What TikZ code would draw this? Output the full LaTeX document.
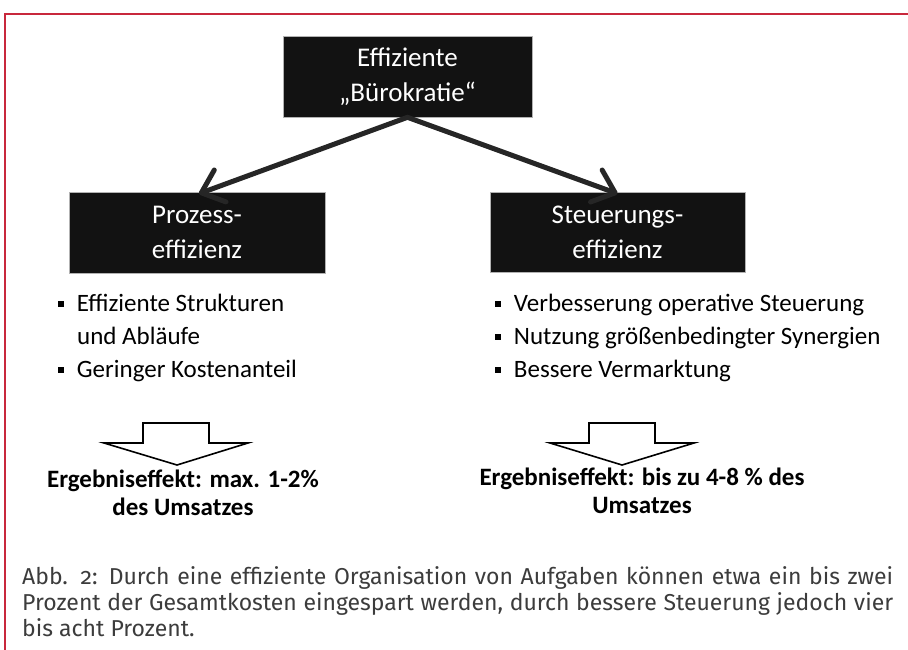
\documentclass[tikz,border=0pt]{standalone}
\usepackage{fontspec}
\setmainfont{Carlito}
\newfontfamily\capfont[Numbers=OldStyle]{Fira Sans}
\usetikzlibrary{arrows.meta}
\definecolor{framered}{HTML}{C8283C}
\definecolor{boxblack}{HTML}{121212}
\definecolor{connc}{HTML}{262626}
\definecolor{capc}{HTML}{3C3C3C}
\tikzset{
  blackbox/.style={fill=boxblack, draw=gray!60, line width=0.6pt, text=white, align=center,
    font=\fontsize{27}{35}\selectfont, inner sep=0pt},
  conn/.style={draw=connc, line width=5pt, line cap=round, line join=round,
    -{Straight Barb[length=20pt,width=34pt,line cap=round,line join=round]}},
  bullettext/.style={anchor=base west, inner sep=0pt, font=\fontsize{25}{30}\selectfont},
  result/.style={align=center, inner sep=0pt, font=\fontsize{25}{28.5}\selectfont\bfseries},
  hollow/.style={draw=black, line width=1.6pt, fill=white, line join=miter},
  capline/.style={anchor=base west, inner sep=0pt, text=capc, font=\capfont\fontsize{23}{27}\selectfont},
}
\newcommand{\sqbul}{\rule[0.17em]{0.25em}{0.25em}\hspace{0.5em}}
\begin{document}
\begin{tikzpicture}[x=1pt,y=-1pt]
\useasboundingbox (0,0) rectangle (908,650);
\fill[white] (0,0) rectangle (908,650);
% frame
\draw[framered, line width=1.2pt] (5,650) -- (5,14) -- (908,14);
% boxes
\node[blackbox, minimum width=249pt, minimum height=81pt] (top) at (407.5,76.5) {Effiziente\\„Bürokratie“};
\node[blackbox, minimum width=256pt, minimum height=81pt] (pz) at (197,232.5) {Prozess-\\effizienz};
\node[blackbox, minimum width=255pt, minimum height=80pt] (st) at (617.5,232) {Steuerungs-\\effizienz};
% connectors
\draw[conn] (top.south) -- ([xshift=2pt,yshift=-2pt]pz.north);
\draw[conn] (top.south) -- ([yshift=-2pt]st.north);
% bullets left
\node[bullettext] (l1) at (58,311) {\sqbul Effiziente Strukturen};
\node[bullettext] (l2) at (77,344) {und Abläufe};
\node[bullettext] (l3) at (58,377) {\sqbul Geringer Kostenanteil};
% bullets right
\node[bullettext] (r1) at (495,311) {\sqbul Verbesserung operative Steuerung};
\node[bullettext] (r2) at (495,344) {\sqbul Nutzung größenbedingter Synergien};
\node[bullettext] (r3) at (495,377) {\sqbul Bessere Vermarktung};
% hollow arrows
\draw[hollow] (143,423) -- (209,423) -- (209,443) -- (248,443) -- (177,465) -- (104,443) -- (143,443) -- cycle;
\draw[hollow] (589,423) -- (655,423) -- (655,443) -- (694,443) -- (622,465) -- (550,443) -- (589,443) -- cycle;
% results
\node[result] (resl) at (183,493) {Ergebniseffekt: max. 1-2\%\\des Umsatzes};
\node[result] (resr) at (642,491) {Ergebniseffekt: bis zu 4-8 \% des\\Umsatzes};
% caption
\node[capline] (cap1) at (22,584) {\makebox[871pt][s]{Abb. 2: Durch eine effiziente Organisation von Aufgaben können etwa ein bis zwei}};
\node[capline] (cap2) at (22,610) {\makebox[871pt][s]{Prozent der Gesamtkosten eingespart werden, durch bessere Steuerung jedoch vier}};
\node[capline] (cap3) at (22,636) {bis acht Prozent.};
\end{tikzpicture}
\end{document}
